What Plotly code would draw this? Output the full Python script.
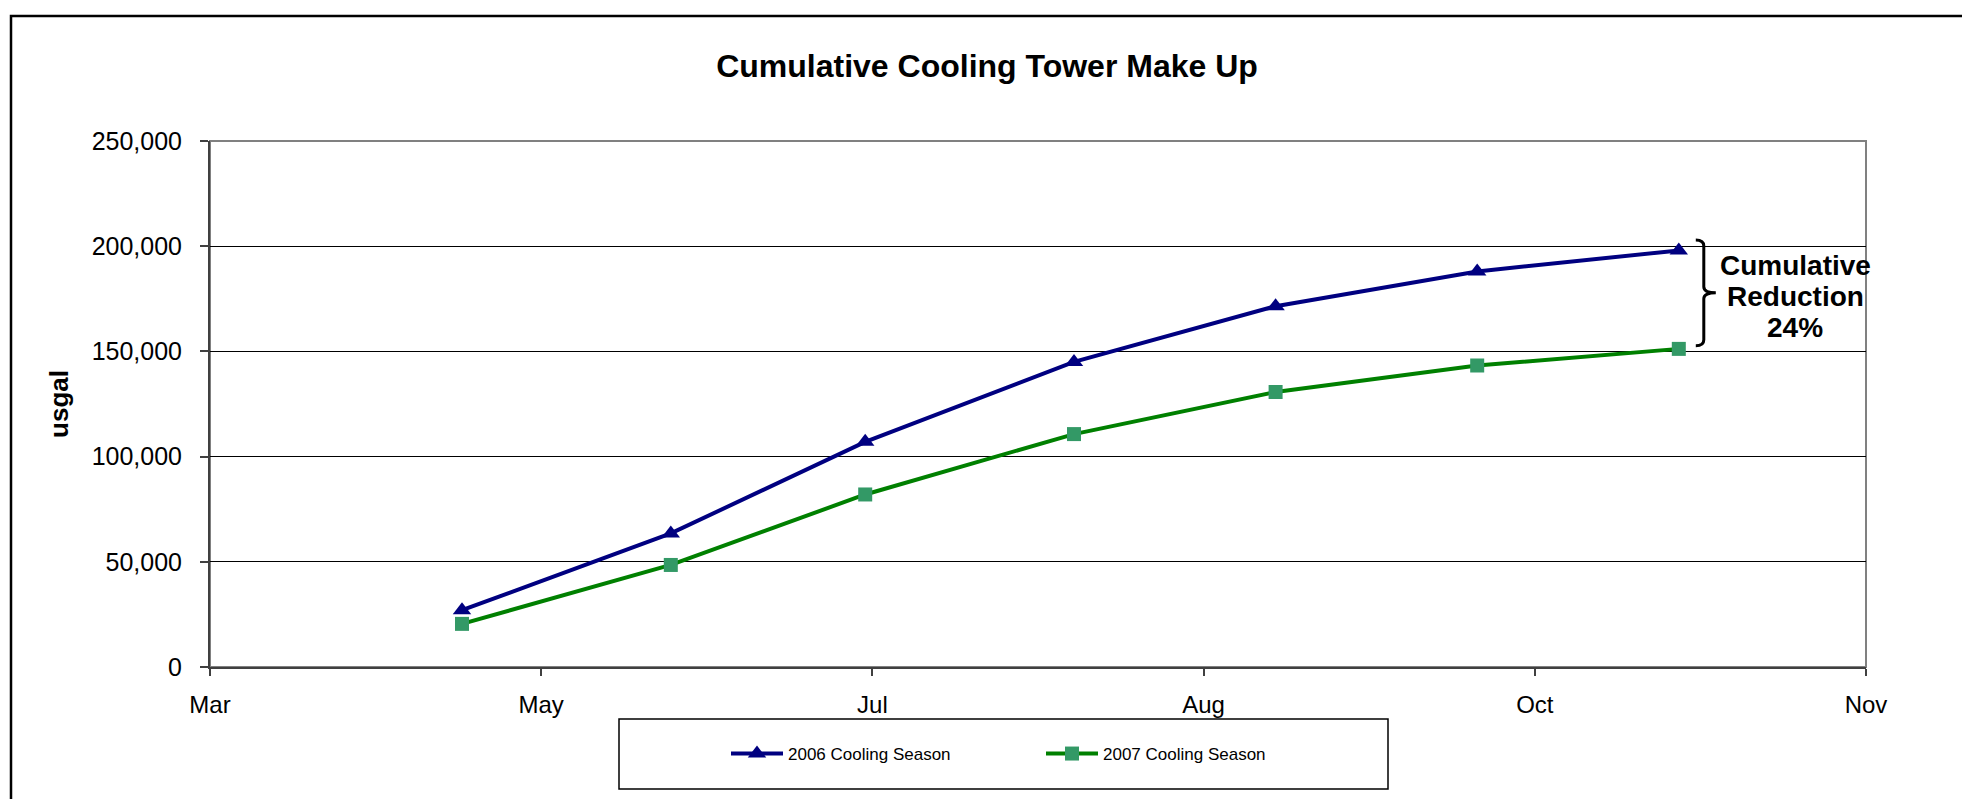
import plotly.graph_objects as go
import pandas as pd

# ---- data ----
dates = ["2007-05-05", "2007-06-03", "2007-06-30", "2007-07-29",
         "2007-08-26", "2007-09-23", "2007-10-21"]
season_2006 = [27000, 63500, 107000, 145000, 171500, 188000, 198000]
season_2007 = [20500, 48500, 82000, 110700, 130700, 143300, 151200]
tick_dates = ["2007-03-31", "2007-05-16", "2007-07-01", "2007-08-16",
              "2007-10-01", "2007-11-16"]
tick_labels = ["Mar", "May", "Jul", "Aug", "Oct", "Nov"]
y_ticks = [0, 50000, 100000, 150000, 200000, 250000]
reduction_lines = ["Cumulative", "Reduction", "24%"]

FONT = "Arial, Liberation Sans, Helvetica, sans-serif"
OFF = 8  # page body margin
W, H = 1970, 799
ML = 210 - OFF
MT = 141 - OFF
MR = W - (1866 - OFF)
MB = H - (667 - OFF)
PW, PH = W - ML - MR, H - MT - MB

def px_x(px):
    return (px - OFF - ML) / PW

def px_y(py):
    return (H - MB - (py - OFF)) / PH

fig = go.Figure()
fig.add_trace(go.Scatter(
    x=dates, y=season_2006, mode="lines+markers", name="2006 Cooling Season",
    line=dict(color="#000080", width=4),
    marker=dict(symbol="triangle-up", size=16, color="#000080"),
))
fig.add_trace(go.Scatter(
    x=dates, y=season_2007, mode="lines+markers", name="2007 Cooling Season",
    line=dict(color="#008000", width=4),
    marker=dict(symbol="square", size=14, color="#339966"),
))

# brace to the right of last points
t0 = pd.Timestamp(tick_dates[0])
t1 = pd.Timestamp(tick_dates[-1])
xl = (pd.Timestamp(dates[-1]) - t0) / (t1 - t0)
dpx = 1.0 / PW
xa = xl + 17 * dpx
xb = xl + 25 * dpx
xc = xl + 37 * dpx
ytop = season_2006[-1] + 5000
ybot = season_2007[-1] + 1500
ymid = (ytop + ybot) / 2
dy = 6 / PH * 250000
brace = (f"M {xa},{ytop} Q {xb},{ytop} {xb},{ytop-dy} L {xb},{ymid+dy} "
         f"Q {xb},{ymid} {xc},{ymid} Q {xb},{ymid} {xb},{ymid-dy} "
         f"L {xb},{ybot+dy} Q {xb},{ybot} {xa},{ybot}")

shapes = [
    dict(type="rect", xref="paper", yref="paper", x0=0, x1=1, y0=0, y1=1,
         line=dict(color="#808080", width=2), layer="below"),
    dict(type="path", xref="paper", yref="paper",
         path=f"M {px_x(11)},{px_y(900)} L {px_x(11)},{px_y(16)} L {px_x(2100)},{px_y(16)}",
         line=dict(color="#000000", width=2.5)),
    dict(type="rect", xref="paper", yref="paper",
         x0=px_x(619), x1=px_x(1388), y0=px_y(789), y1=px_y(719),
         line=dict(color="#000000", width=1.5)),
    dict(type="path", xref="paper", yref="y", path=brace,
         line=dict(color="#000000", width=3)),
]

annotations = []
for i, line in enumerate(reduction_lines):
    annotations.append(dict(
        text=f"<b>{line}</b>", xref="paper", yref="y",
        x=px_x(1795), y=ymid, xanchor="center", yanchor="middle",
        yshift=31 * (1 - i) - 4, showarrow=False,
        font=dict(size=28, family=FONT, color="black")))

fig.update_layout(
    width=W, height=H,
    margin=dict(l=ML, r=MR, t=MT, b=MB),
    paper_bgcolor="white", plot_bgcolor="white",
    font=dict(family=FONT, color="black", size=24),
    title=dict(text="<b>Cumulative Cooling Tower Make Up</b>",
               x=(987 - OFF) / W, xanchor="center", xref="container",
               y=1 - (66 - OFF) / H, yanchor="middle", yref="container",
               font=dict(size=32, family=FONT, color="black")),
    xaxis=dict(type="date", range=[tick_dates[0], tick_dates[-1]],
               tickvals=tick_dates, ticktext=tick_labels,
               showgrid=False, zeroline=False,
               showline=True, linecolor="#404040", linewidth=2,
               ticks="outside", ticklen=7, tickcolor="#404040", tickwidth=1.5,
               tickfont=dict(size=24, family=FONT, color="black"),
               ticklabelstandoff=8),
    yaxis=dict(range=[0, 250000], tickvals=y_ticks,
               tickformat=",d",
               showgrid=True, gridcolor="#000000", gridwidth=1,
               zeroline=False,
               showline=True, linecolor="#404040", linewidth=2,
               ticks="outside", ticklen=8, tickcolor="#404040", tickwidth=1.5,
               tickfont=dict(size=25, family=FONT, color="black"),
               ticklabelstandoff=13,
               title=dict(text="<b>usgal</b>", standoff=16,
                          font=dict(size=26, family=FONT, color="black"))),
    legend=dict(orientation="h", x=px_x(726), xanchor="left",
                y=px_y(754), yanchor="middle",
                font=dict(size=17, family=FONT, color="black"),
                bgcolor="rgba(0,0,0,0)", borderwidth=0,
                itemwidth=52, entrywidth=248, entrywidthmode="pixels"),
    shapes=shapes,
    annotations=annotations,
)

fig.write_html("out.html")
